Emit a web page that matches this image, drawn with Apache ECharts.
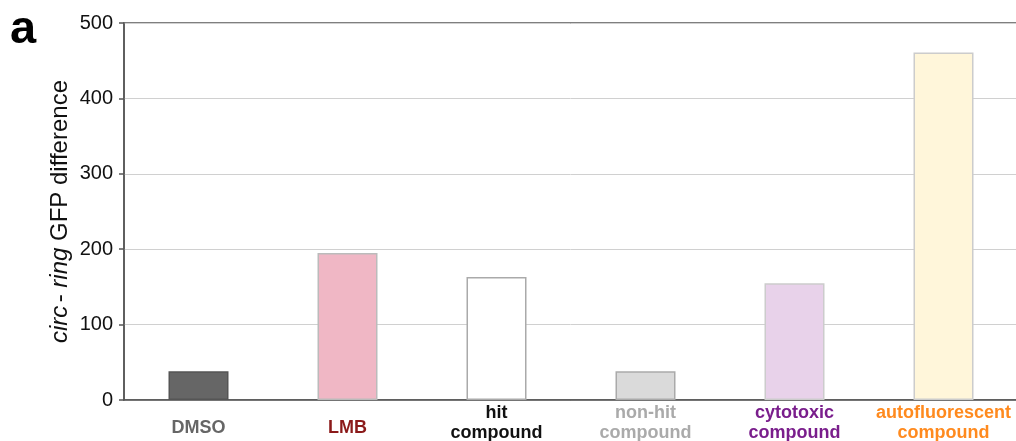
<!DOCTYPE html>
<html><head><meta charset="utf-8">
<script src="https://cdn.jsdelivr.net/npm/echarts@6/dist/echarts.min.js"></script>
<style>html,body{margin:0;padding:0;background:#fff}#c{width:1016px;height:441px}</style>
</head><body><div id="c"></div>
<script>
var categories = ['DMSO', 'LMB', 'hit\ncompound', 'non-hit\ncompound', 'cytotoxic\ncompound', 'autofluorescent\ncompound'];
var values = [38, 195, 163, 38, 155, 461];
var fillColors = ['#666666', '#F0B7C5', '#FFFFFF', '#DADADA', '#E8D2EA', '#FFF6DA'];
var borderColors = ['#555555', '#BBBBBB', '#AAAAAA', '#AAAAAA', '#CCCCCC', '#CCCCCC'];
var labelColors = ['#666666', '#8B1A1A', '#111111', '#AAAAAA', '#7A1E8C', '#FF8A1E'];
var yTicks = [0, 100, 200, 300, 400, 500];

var chart = echarts.init(document.getElementById('c'));
var rich = {};
labelColors.forEach(function(c, i){
  rich['c'+i] = {color:c, fontWeight:'bold', fontSize:18, lineHeight:20, fontFamily:'Liberation Sans'};
  rich['s'+i] = {color:c, fontWeight:'bold', fontSize:18, lineHeight:20, fontFamily:'Liberation Sans', padding:[31,0,0,0]};
});
chart.setOption({
  animation:false,
  textStyle:{fontFamily:'Liberation Sans'},
  grid:{left:124, right:-2, top:23, bottom:41, show:true, borderColor:'#555', borderWidth:1.5, backgroundColor:'transparent', containLabel:false, outerBoundsMode:'none'},
  graphic:[{type:'text', x:10, y:30, style:{text:'a', font:'bold 47px Liberation Sans', fill:'#000', verticalAlign:'middle'}}],
  xAxis:{type:'category', data:categories,
    axisLine:{lineStyle:{color:'#555', width:1.5}}, axisTick:{show:false},
    axisLabel:{interval:0, margin:3,
      formatter:function(v, i){
        var parts = v.split('\n');
        if (parts.length === 1) return '{s'+i+'|'+v+'}';
        return parts.map(function(s){return '{c'+i+'|'+s+'}';}).join('\n'); },
      rich:rich}},
  yAxis:{type:'value', min:0, max:500, interval:100,
    name:'{i|circ} {n|- }{i|ring}{n| GFP difference}', nameLocation:'middle', nameGap:52, nameRotate:90, nameMoveOverlap:false,
    nameTextStyle:{rich:{i:{fontStyle:'italic', fontSize:24, color:'#111', fontFamily:'Liberation Sans'}, n:{fontSize:24, color:'#111', fontFamily:'Liberation Sans'}}},
    axisLine:{show:true, lineStyle:{color:'#555', width:1.5}},
    axisTick:{show:true, length:5, lineStyle:{color:'#555', width:1.5}},
    axisLabel:{fontSize:20, color:'#111', margin:11},
    splitLine:{show:true, lineStyle:{color:'#D0D0D0', width:1}}},
  series:[{type:'bar', barWidth:60,
    data:values.map(function(v,i){return {value:v, itemStyle:{color:fillColors[i], borderColor:borderColors[i], borderWidth:1.5}};})
  }]
});
</script></body></html>
